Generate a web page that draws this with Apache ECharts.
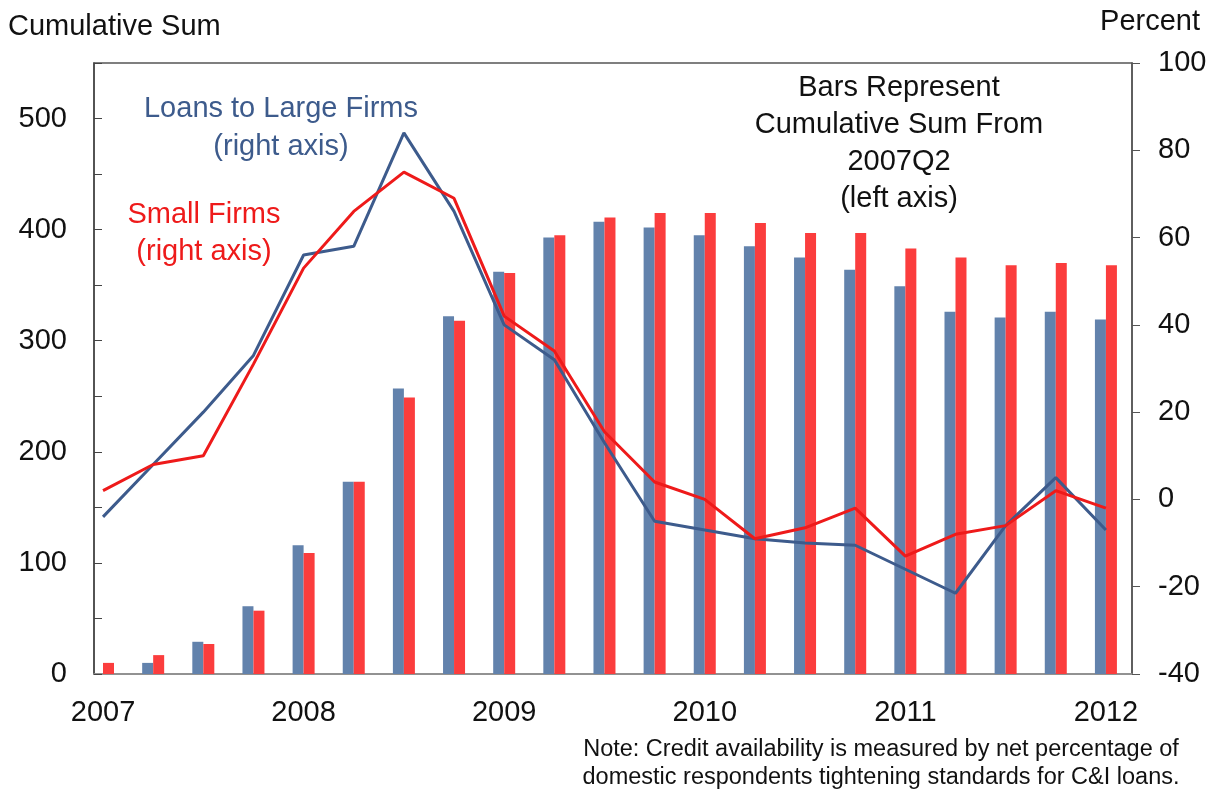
<!DOCTYPE html>
<html>
<head>
<meta charset="utf-8">
<script src="https://cdn.jsdelivr.net/npm/echarts@6/dist/echarts.min.js"></script>
<style>
  html, body { margin: 0; padding: 0; background: #fff; }
  #chart { width: 1217px; height: 794px; }
</style>
</head>
<body>
<div id="chart"></div>
<script>
// quarters from 2007Q1 to 2012Q1
var quarters = [
  "2007Q1", "2007Q2", "2007Q3", "2007Q4",
  "2008Q1", "2008Q2", "2008Q3", "2008Q4",
  "2009Q1", "2009Q2", "2009Q3", "2009Q4",
  "2010Q1", "2010Q2", "2010Q3", "2010Q4",
  "2011Q1", "2011Q2", "2011Q3", "2011Q4",
  "2012Q1"
];
var yearTicks = [0, 4, 8, 12, 16, 20];

// net percentage tightening (right axis)
var largeFirms = [-4, 8, 20, 33, 56, 58, 84, 66, 40, 32, 13, -5, -7, -9, -10, -10.5, -16, -21.5, -6, 5, -7];
var smallFirms = [2, 8, 10, 31, 53, 66, 75, 69, 42, 34, 15.5, 4, 0, -9, -6.5, -2, -13, -8, -6, 2, -2];

// cumulative sum from 2007Q2 (left axis)
var largeCum = [0, 10, 29, 61, 116, 173, 257, 322, 362, 393, 407, 402, 395, 385, 375, 364, 349, 326, 321, 326, 319];
var smallCum = [10, 17, 27, 57, 109, 173, 249, 318, 361, 395, 411, 415, 415, 406, 397, 397, 383, 375, 368, 370, 368];

var FONT = "'Liberation Sans', Arial, sans-serif";
var BLUE_LINE = "#3d5b8c", RED_LINE = "#ee1a1a";
var BLUE_BAR = "#6282ac", RED_BAR = "#fb3d3d";

function pairs(arr) {
  return arr.map(function (v, i) { return [i, v]; });
}

var chart = echarts.init(document.getElementById("chart"));

var option = {
  animation: false,
  textStyle: { fontFamily: FONT },
  grid: {
    left: 94, right: 85, top: 63, bottom: 120,
    show: true, borderColor: "#555", borderWidth: 1.5, backgroundColor: "#fff"
  },
  xAxis: {
    type: "value",
    min: -0.18,
    max: 20.52,
    axisLine: { show: true, onZero: false, lineStyle: { color: "#999", width: 1.5 } },
    axisTick: { show: false },
    splitLine: { show: false },
    axisLabel: {
      customValues: yearTicks,
      margin: 24,
      fontSize: 29,
      color: "#111",
      fontFamily: FONT,
      formatter: function (v) { return quarters[Math.round(v)].slice(0, 4); }
    }
  },
  yAxis: [
    {
      type: "value",
      min: 0, max: 550, interval: 50,
      axisLine: { show: true, onZero: false, lineStyle: { color: "#444", width: 1.5 } },
      axisTick: { show: true, inside: true, length: 8, lineStyle: { color: "#444" } },
      splitLine: { show: false },
      axisLabel: {
        margin: 27, fontSize: 29, color: "#111", fontFamily: FONT,
        formatter: function (v) { return v % 100 === 0 ? String(v) : ""; }
      }
    },
    {
      type: "value",
      min: -40, max: 100, interval: 20,
      axisLine: { show: true, onZero: false, lineStyle: { color: "#555", width: 1.5 } },
      axisTick: { show: true, inside: false, length: 8, lineStyle: { color: "#555" } },
      splitLine: { show: false },
      axisLabel: { margin: 26, fontSize: 29, color: "#111", fontFamily: FONT }
    }
  ],
  series: [
    {
      name: "Large cum", type: "bar", yAxisIndex: 0,
      barWidth: 11, barGap: "0%",
      itemStyle: { color: BLUE_BAR },
      data: pairs(largeCum)
    },
    {
      name: "Small cum", type: "bar", yAxisIndex: 0,
      barWidth: 11, barGap: "0%",
      itemStyle: { color: RED_BAR },
      data: pairs(smallCum)
    },
    {
      name: "Loans to Large Firms", type: "line", yAxisIndex: 1,
      showSymbol: false, z: 5,
      lineStyle: { color: BLUE_LINE, width: 3 },
      data: pairs(largeFirms)
    },
    {
      name: "Small Firms", type: "line", yAxisIndex: 1,
      showSymbol: false, z: 6,
      lineStyle: { color: RED_LINE, width: 3 },
      data: pairs(smallFirms)
    }
  ],
  graphic: [
    { type: "text", left: 8, top: 12, style: { text: "Cumulative Sum", fontSize: 29, fill: "#111", fontFamily: FONT } },
    { type: "text", right: 17, top: 7, style: { text: "Percent", fontSize: 29, fill: "#111", fontFamily: FONT } },
    {
      type: "text", x: 281, y: 128,
      style: { text: "Loans to Large Firms\n(right axis)", fontSize: 29, lineHeight: 38, align: "center", verticalAlign: "middle", fill: BLUE_LINE, fontFamily: FONT }
    },
    {
      type: "text", x: 204, y: 233,
      style: { text: "Small Firms\n(right axis)", fontSize: 29, lineHeight: 37, align: "center", verticalAlign: "middle", fill: RED_LINE, fontFamily: FONT }
    },
    {
      type: "text", x: 899, y: 143,
      style: { text: "Bars Represent\nCumulative Sum From\n2007Q2\n(left axis)", fontSize: 29, lineHeight: 37, align: "center", verticalAlign: "middle", fill: "#111", fontFamily: FONT }
    },
    {
      type: "text", x: 881, y: 764,
      style: { text: "Note: Credit availability is measured by net percentage of\ndomestic respondents tightening standards for C&I loans.", fontSize: 23.5, lineHeight: 28, align: "center", verticalAlign: "middle", fill: "#111", fontFamily: FONT }
    }
  ]
};

chart.setOption(option);
</script>
</body>
</html>
